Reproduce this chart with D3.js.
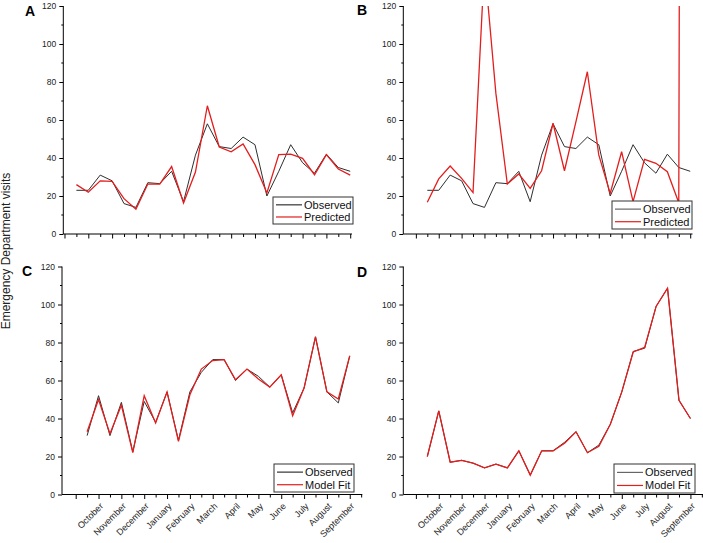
<!DOCTYPE html>
<html><head><meta charset="utf-8">
<script src="https://cdn.jsdelivr.net/npm/d3@7"></script>
<style>body{margin:0;background:#fff}svg{display:block}text{font-family:"Liberation Sans",Arial,sans-serif}</style>
</head><body>
<script>
const months = ["October","November","December","January","February","March","April","May","June","July","August","September"];
const observedAB = [23, 23, 31, 28, 16, 14, 27, 26.5, 33, 17, 41.5, 58, 46, 45, 51, 47, 20, 33, 47, 37.5, 32, 42, 35, 33];
const predictedA = [26, 22, 28, 27.7, 18.6, 13, 26.3, 26.3, 35.5, 16.3, 32.6, 67.5, 45.8, 43.3, 47.4, 36.5, 21.6, 41.8, 42, 39.8, 31.2, 41.8, 34.2, 31];
const predictedB = [16.7, 29, 35.8, 29.3, 21.8, 142, 74, 26.3, 31.6, 24, 33.3, 58.3, 33.3, 59, 85.4, 41.6, 21.4, 43.3, 17, 39.3, 37.2, 32.8, 16.5, 2500];
const observedC = [31, 52, 31, 48.5, 22.5, 49, 38, 54, 28.5, 54, 64.3, 71, 71, 60, 66, 62.2, 56.5, 63, 43, 56, 83, 54, 48.2, 73];
const modelFitC = [33, 50, 32, 47, 22, 52, 37.6, 54, 28, 52.5, 66, 70.5, 71, 60.4, 66, 60.8, 56.5, 63, 41.5, 56, 83, 54, 50.3, 73];
const observedD = [20, 44, 17, 18, 16.5, 14, 16, 14, 23, 10.2, 23, 23, 27.5, 33, 22, 26, 37, 54, 75.3, 77, 99, 108.6, 49.6, 40];
const modelFitD = [20, 44, 17, 18, 16.5, 14, 16, 14, 23, 10.2, 23, 23, 27, 33, 22, 25.4, 37, 54, 75, 77.4, 99, 108.6, 49.6, 40];
const yTicks = [0, 20, 40, 60, 80, 100, 120];

const W = 703, H = 543;
const svg = d3.select("body").append("svg").attr("width", W).attr("height", H);

const panels = [
  {id:"A", xr:[63.3, 352], dom:[-1.1, 23.15], yr:[234, 6], obs:observedAB, fit:predictedA, names:["Observed","Predicted"], months:false, leg:[273,197,80,27], letter:[25,16], legObs:"#333"},
  {id:"B", xr:[403.3, 692.5], dom:[-2.1, 23.2], yr:[234, 6], obs:observedAB, fit:predictedB, names:["Observed","Predicted"], months:false, leg:[612,201,80,28], letter:[357,15], legObs:"#666"},
  {id:"C", xr:[62, 362.3], dom:[-2.2, 24.1], yr:[494.5, 266.5], obs:observedC, fit:modelFitC, names:["Observed","Model Fit"], months:true, leg:[274,464,80,28], letter:[22,275.5], legObs:"#333"},
  {id:"D", xr:[403.3, 703], dom:[-2.1, 24.1], yr:[494.5, 266.5], obs:observedD, fit:modelFitD, names:["Observed","Model Fit"], months:true, leg:[614,464,81,29], letter:[357,276.5], legObs:"#666"}
];

const red = "#e41d1d", dark = "#2e2e2e";

panels.forEach((p, pi) => {
  const x = d3.scaleLinear().domain(p.dom).range(p.xr);
  const y = d3.scaleLinear().domain([0, 120]).range(p.yr);
  const g = svg.append("g");
  const clipId = "clip" + p.id;
  svg.append("clipPath").attr("id", clipId).append("rect")
    .attr("x", p.xr[0]).attr("y", p.yr[1]).attr("width", p.xr[1] - p.xr[0]).attr("height", p.yr[0] - p.yr[1]);

  // y axis
  const yAxis = d3.axisLeft(y).tickValues(yTicks).tickSize(4).tickPadding(3);
  const ya = g.append("g").attr("transform", `translate(${p.xr[0]},0)`).call(yAxis);
  ya.select(".domain").attr("stroke", "#000").attr("d", `M-0,${p.yr[0]}V${p.yr[1]}`);
  ya.selectAll(".tick line").attr("stroke", "#000");
  ya.selectAll("text").attr("font-size", 8.5).attr("fill", "#222").style("font-family", "'Liberation Sans',Arial,sans-serif");
  // minor y ticks
  g.append("g").selectAll("line").data(d3.range(10, 120, 20)).join("line")
    .attr("x1", p.xr[0] - 2).attr("x2", p.xr[0]).attr("y1", d => y(d)).attr("y2", d => y(d)).attr("stroke", "#000");

  // x axis
  const idx = d3.range(Math.ceil(p.dom[0]) + (p.dom[0] < -1.5 ? 1 : 0), Math.floor(p.dom[1]) + 1);
  const xAxis = d3.axisBottom(x).tickValues(idx).tickSize(0).tickFormat("");
  const xa = g.append("g").attr("transform", `translate(0,${p.yr[0]})`).call(xAxis);
  xa.select(".domain").attr("stroke", "#000").attr("d", `M${p.xr[0]},0H${p.xr[1]}`);
  xa.selectAll(".tick line").attr("stroke", "#000").attr("y2", d => (Math.abs(d % 2) === 1 ? 4.5 : 3));
  if (p.months) {
    g.append("g").selectAll("text").data(months).join("text")
      .attr("transform", (d, i) => `translate(${x(2 * i + 1) + 3},${p.yr[0] + 10}) rotate(-45)`)
      .attr("text-anchor", "end").attr("dy", "0.35em").attr("font-size", 9).attr("fill", "#222")
      .text(d => d);
  }

  // lines
  const line = d3.line().x((d, i) => x(i)).y(d => y(d));
  const lg = g.append("g").attr("clip-path", `url(#${clipId})`);
  lg.append("path").datum(p.obs).attr("d", line).attr("fill", "none").attr("stroke", dark).attr("stroke-width", 1);
  lg.append("path").datum(p.fit).attr("d", line).attr("fill", "none").attr("stroke", red).attr("stroke-width", 1.3);

  // legend
  const [lx, ly, lw, lh] = p.leg;
  const leg = g.append("g");
  leg.append("rect").attr("x", lx).attr("y", ly).attr("width", lw).attr("height", lh)
    .attr("fill", "#fff").attr("stroke", "#333").attr("stroke-width", 1);
  [[p.names[0], p.legObs], [p.names[1], red]].forEach(([name, col], k) => {
    const cy = ly + lh * (k === 0 ? 0.29 : 0.74);
    leg.append("line").attr("x1", lx + 3).attr("x2", lx + 29).attr("y1", cy).attr("y2", cy)
      .attr("stroke", col).attr("stroke-width", 1.2);
    leg.append("text").attr("x", lx + 31).attr("y", cy + 4).attr("font-size", 11).attr("fill", "#111").text(name);
  });

  // panel letter
  g.append("text").attr("x", p.letter[0]).attr("y", p.letter[1]).attr("font-size", 14)
    .attr("font-weight", "bold").attr("fill", "#000").text(p.id);
});

svg.append("text").attr("transform", "translate(10,251) rotate(-90)").attr("text-anchor", "middle")
  .attr("font-size", 12).attr("fill", "#222").text("Emergency Department visits");
</script>
</body></html>
